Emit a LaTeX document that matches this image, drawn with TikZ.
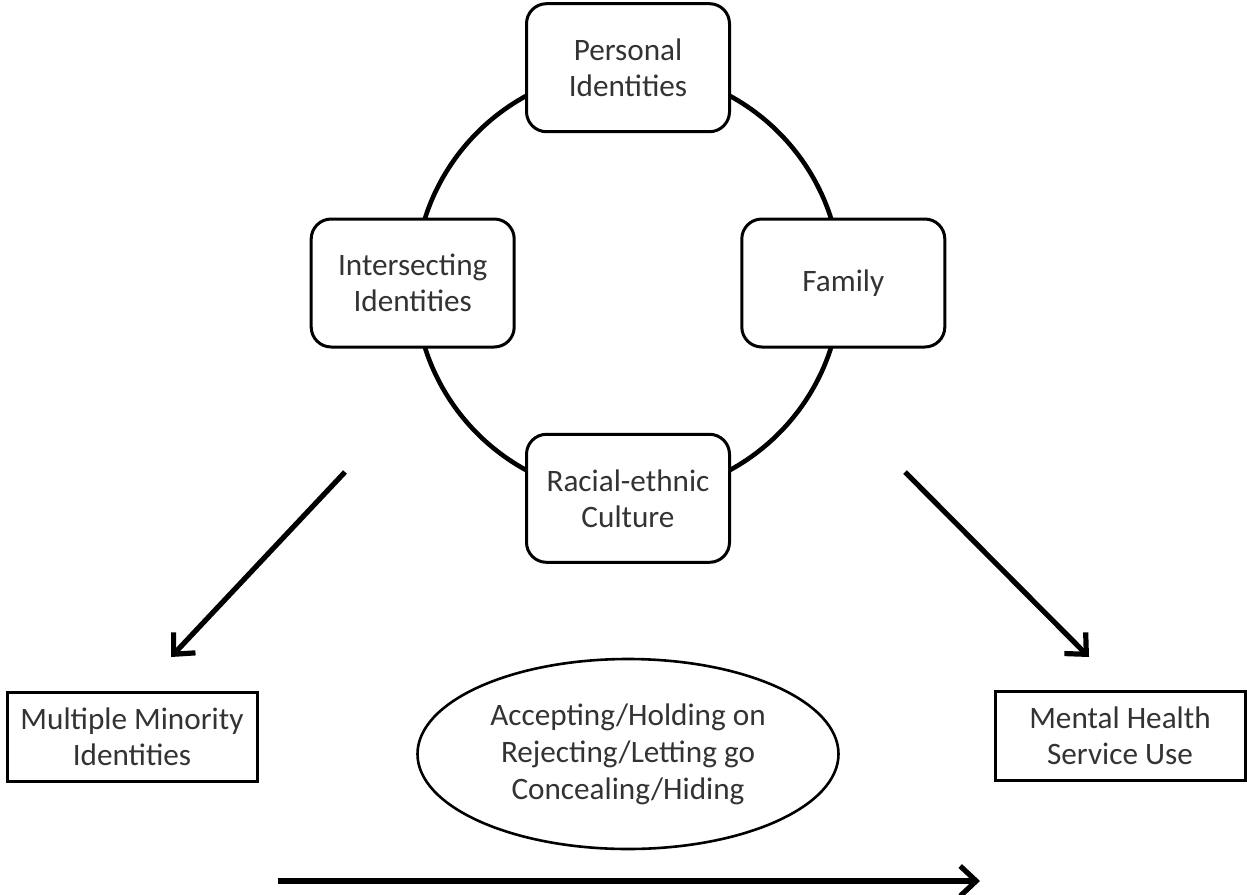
\documentclass[tikz,border=0pt]{standalone}
\usepackage{fontspec}
\setmainfont{Carlito}
\usetikzlibrary{arrows.meta,positioning,shapes.geometric}

\begin{document}
\begin{tikzpicture}[
  x=0.5pt, y=-0.5pt,
  every node/.style={font=\fontsize{15.6}{18}\selectfont, text=black!80},
  idbox/.style={rectangle, rounded corners=10pt, draw=black, line width=1.5pt,
                fill=white, minimum width=101.5pt, minimum height=64pt, align=center},
  plainbox/.style={rectangle, draw=black, line width=1.5pt, fill=white,
                   minimum width=125pt, minimum height=44.5pt, align=center},
  strat/.style={ellipse, draw=black, line width=1.3pt, minimum width=210.5pt,
                minimum height=95pt, align=center,
                font=\fontsize{15.6}{18.5}\selectfont},
  arr/.style={-{Straight Barb[length=8pt,width=15pt]}, line width=2.6pt}
]
\useasboundingbox (0,0) rectangle (1247,894);

% identity ring
\node[circle, draw=black, line width=2.3pt, minimum size=213pt, inner sep=0pt] (ring) at (628,283) {};
\node[idbox] (pers)  at (ring.north) {Personal\\Identities};
\node[idbox] (inter) at (ring.west)  {Intersecting\\Identities};
\node[idbox] (fam)   at (ring.east)  {Family};
\node[idbox] (race)  at (ring.south) {Racial-ethnic\\Culture};

% outcomes
\node[plainbox] (mult) at (132,737)  {Multiple Minority\\Identities};
\node[plainbox] (mhsu) at (1120,736) {Mental Health\\Service Use};
\node[strat]    (acc)  at (628,754)  {Accepting/Holding on\\Rejecting/Letting go\\Concealing/Hiding};

\coordinate (la) at (345,472);
\coordinate (lb) at (171,657);
\coordinate (ra) at (905,472);
\coordinate (rb) at (1089,657);
\coordinate (ba) at (278,881);
\coordinate (bb) at (980,881);

\draw[arr] (la) -- (lb);
\draw[arr] (ra) -- (rb);
\draw[arr] (ba) -- (bb);
\end{tikzpicture}
\end{document}
